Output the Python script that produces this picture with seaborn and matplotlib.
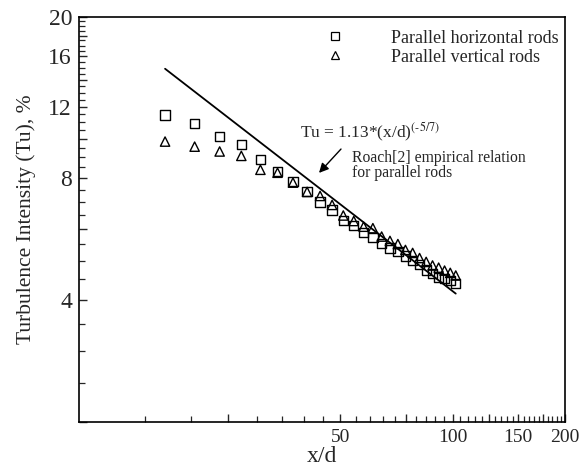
import numpy as np
import pandas as pd
import seaborn as sns
import matplotlib.pyplot as plt
from matplotlib.lines import Line2D
from matplotlib.ticker import FixedLocator, FuncFormatter, NullFormatter

# x/d stations
x_d = [17, 20.4, 23.8, 27.2, 30.6, 34, 37.4, 40.8, 44.2, 47.6, 51, 54.4, 57.8,
       61.2, 64.6, 68, 71.4, 74.8, 78.2, 81.6, 85, 88.4, 91.8, 95.2, 98.6, 102]

tu_horizontal = [11.46, 10.93, 10.13, 9.67, 8.91, 8.30, 7.84, 7.41, 6.98, 6.68,
                 6.29, 6.11, 5.87, 5.71, 5.52, 5.38, 5.27, 5.14, 5.01, 4.89,
                 4.75, 4.66, 4.55, 4.52, 4.47, 4.39]

tu_vertical = [9.85, 9.57, 9.31, 9.08, 8.39, 8.25, 7.80, 7.40, 7.23, 6.87,
               6.47, 6.27, 6.07, 6.02, 5.74, 5.60, 5.50, 5.32, 5.23, 5.08,
               4.97, 4.87, 4.81, 4.73, 4.67, 4.60]

# Roach empirical relation, end points of the drawn line
roach_x = [17, 102]
roach_tu = [14.9, 4.15]

x_labelled = [50, 100, 150, 200]
y_labelled = [4, 8, 12, 16, 20]

df = pd.DataFrame({
    'x_d': x_d * 2,
    'tu': tu_horizontal + tu_vertical,
    'case': ['Parallel horizontal rods'] * len(x_d) + ['Parallel vertical rods'] * len(x_d),
})
roach = pd.DataFrame({'x_d': roach_x, 'tu': roach_tu})

sns.set_style("ticks")
plt.rcParams['font.family'] = ['Liberation Serif', 'DejaVu Serif']
plt.rcParams['mathtext.fontset'] = 'stix'

fig = plt.figure(figsize=(5.79, 4.69), dpi=100)
ax = fig.add_axes([0.1364, 0.1002, 0.8394, 0.8636])

sns.lineplot(data=roach, x='x_d', y='tu', color='black', linewidth=1.3, ax=ax)
sns.scatterplot(data=df, x='x_d', y='tu', style='case',
                markers={'Parallel horizontal rods': 's', 'Parallel vertical rods': '^'},
                facecolor='none', edgecolor='black', color='black',
                s=45, linewidth=1.0, ax=ax, legend=False)

ax.set_xscale('log')
ax.set_yscale('log')
ax.set_xlim(10, 200)
ax.set_ylim(2, 20)

# x ticks: major every 25, minor every 5
ax.xaxis.set_major_locator(FixedLocator(list(range(25, 201, 25))))
ax.xaxis.set_minor_locator(FixedLocator([v for v in range(15, 200, 5) if v % 25]))
ax.xaxis.set_major_formatter(FuncFormatter(lambda v, p: f'{v:.0f}' if round(v) in x_labelled else ''))
ax.xaxis.set_minor_formatter(NullFormatter())

# y ticks: major every 2, minor every 0.5
ax.yaxis.set_major_locator(FixedLocator(list(range(2, 21, 2))))
ax.yaxis.set_minor_locator(FixedLocator([v / 2 for v in range(5, 40) if v % 4]))
ax.yaxis.set_major_formatter(FuncFormatter(lambda v, p: f'{v:.0f}' if round(v) in y_labelled else ''))
ax.yaxis.set_minor_formatter(NullFormatter())

ax.tick_params(which='major', direction='in', length=6, width=1, pad=5)
ax.tick_params(which='minor', direction='in', length=4, width=0.9)
ax.tick_params(axis='x', which='major', labelsize=14)
ax.tick_params(axis='y', which='major', labelsize=17)
for s in ax.spines.values():
    s.set_color('black')
    s.set_linewidth(1.2)

ax.set_xlabel('x/d', fontsize=17, labelpad=0)
ax.set_ylabel('Turbulence Intensity (Tu), %', fontsize=15.5, labelpad=9)

# legend
handles = [Line2D([], [], marker='s', linestyle='none', markerfacecolor='none',
                  markeredgecolor='black', markersize=6, markeredgewidth=0.9),
           Line2D([], [], marker='^', linestyle='none', markerfacecolor='none',
                  markeredgecolor='black', markersize=5.5, markeredgewidth=0.9)]
ax.legend(handles, ['Parallel horizontal rods', 'Parallel vertical rods'],
          loc='upper right', frameon=False, fontsize=13, handletextpad=2.1,
          labelspacing=0.12, borderaxespad=0.3, bbox_to_anchor=(1.012, 1.0))

# annotation
ax.text(0.455, 0.715, r'Tu = 1.13*(x/d)$^{(\text{-}5/7)}$', transform=ax.transAxes,
        fontsize=12.5, ha='left', va='center')
ax.text(0.562, 0.634, 'Roach[2] empirical relation\nfor parallel rods',
        transform=ax.transAxes, fontsize=11.3, ha='left', va='center', linespacing=0.95)
ax.annotate('', xy=(0.49, 0.61), xytext=(0.543, 0.679), xycoords='axes fraction',
            arrowprops=dict(arrowstyle='-|>', color='black', lw=1.0, mutation_scale=14))

fig.savefig('out.png', dpi=100)
